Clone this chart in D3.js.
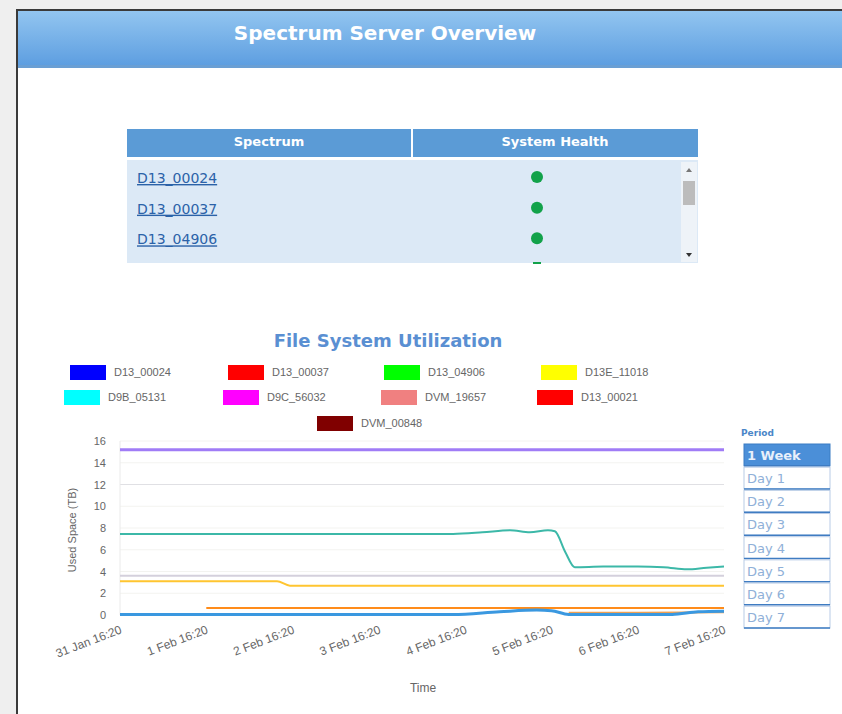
<!DOCTYPE html>
<html><head><meta charset="utf-8">
<script src="https://cdn.jsdelivr.net/npm/d3@7"></script>
<style>
html,body{margin:0;padding:0;background:#efefef;}
svg{display:block;}
</style></head>
<body>
<svg id="c" width="842" height="714"></svg>
<script>
// ---------- data ----------
const pageTitle = "Spectrum Server Overview";
const tableHeaders = ["Spectrum", "System Health"];
const tableRows = ["D13_00024", "D13_00037", "D13_04906"];
const chartTitle = "File System Utilization";
const legendNames = ["D13_00024","D13_00037","D13_04906","D13E_11018","D9B_05131","D9C_56032","DVM_19657","D13_00021","DVM_00848"];
const legendColors = ["#0000ff","#ff0000","#00ff00","#ffff00","#00ffff","#ff00ff","#f08080","#ff0000","#800000"];
const periodOptions = ["1 Week","Day 1","Day 2","Day 3","Day 4","Day 5","Day 6","Day 7"];
const yTicks = [0,2,4,6,8,10,12,14,16];
const xTickDays = [0,1,2,3,4,5,6,7];
const startTime = new Date(2021,0,31,16,20);
// series: day offsets from start and values (TB)
const purpleDays = [0,7];            const purpleVals = [15.2,15.2];
const grayDays = [0,7];              const grayVals = [3.6,3.6];
const tealDays = [0,1,2,3,3.86,4.2,4.52,4.75,4.96,5.04,5.16,5.27,5.6,6.0,6.3,6.57,6.8,7];
const tealVals = [7.45,7.45,7.45,7.45,7.45,7.6,7.8,7.6,7.8,7.7,5.8,4.4,4.45,4.45,4.4,4.2,4.35,4.45];
const yellowDays = [0,1,1.82,1.97,3,4,5,6,7];
const yellowVals = [3.1,3.1,3.1,2.7,2.7,2.7,2.7,2.7,2.7];
const orangeDays = [1.0,2,3,4,5,6,7];
const orangeVals = [0.65,0.65,0.65,0.65,0.65,0.65,0.65];
const orange2Days = [5.2,6,7];
const orange2Vals = [0.2,0.2,0.25];
const blueDays = [0,1,2,3,3.86,4.4,4.83,5.0,5.2,6.0,6.4,6.7,7];
const blueVals = [0.05,0.05,0.05,0.05,0.05,0.3,0.45,0.4,0.05,0.05,0.05,0.3,0.35];
const seriesColors = {purple:"#a07cf6", gray:"#d4d0dc", teal:"#3cb8a8", yellow:"#ffc530", orange:"#ff8c1a", orange2:"#f0a050", blue:"#3a98e0"};

// ---------- drawing ----------
const svg = d3.select("#c");
const defs = svg.append("defs");
const hg = defs.append("linearGradient").attr("id","hg").attr("x1",0).attr("y1",0).attr("x2",0).attr("y2",1);
hg.append("stop").attr("offset","0%").attr("stop-color","#92c5f0");
hg.append("stop").attr("offset","100%").attr("stop-color","#5c9de0");

// panel
svg.append("rect").attr("x",17).attr("y",10).attr("width",840).attr("height",720)
  .attr("fill","#fff").attr("stroke","#3a3a3a").attr("stroke-width",2);
svg.append("rect").attr("x",18).attr("y",11).attr("width",830).attr("height",56).attr("fill","url(#hg)");
svg.append("rect").attr("x",18).attr("y",65).attr("width",830).attr("height",3).attr("fill","#6a9fd4");
svg.append("text").attr("x",385).attr("y",40).attr("text-anchor","middle")
  .attr("font-family","DejaVu Sans, Verdana, sans-serif").attr("font-weight","bold").attr("font-size",20)
  .attr("fill","#fff").text(pageTitle);

// table
svg.append("rect").attr("x",127).attr("y",129).attr("width",571).attr("height",28).attr("fill","#5b9bd6");
svg.append("line").attr("x1",412).attr("x2",412).attr("y1",129).attr("y2",157).attr("stroke","#fff").attr("stroke-width",2);
[269,555].forEach((cx,i)=>svg.append("text").attr("x",cx).attr("y",146).attr("text-anchor","middle")
  .attr("font-family","DejaVu Sans, Verdana, sans-serif").attr("font-weight","bold").attr("font-size",13)
  .attr("fill","#fff").text(tableHeaders[i]));
svg.append("rect").attr("x",127).attr("y",160).attr("width",571).attr("height",103).attr("fill","#dce9f6");
const rowY = d3.scalePoint().domain(d3.range(tableRows.length+1)).range([178,270]);
tableRows.forEach((r,i)=>{
  svg.append("text").attr("x",137).attr("y",rowY(i)+5).attr("font-family","DejaVu Sans, Verdana, sans-serif")
    .attr("font-size",14).attr("fill","#2b62a8").attr("text-decoration","underline").text(r);
  svg.append("circle").attr("cx",537).attr("cy",rowY(i)-1).attr("r",6).attr("fill","#12a24a");
});
svg.append("rect").attr("x",533).attr("y",262).attr("width",8).attr("height",2).attr("fill","#12a24a");
// scrollbar
svg.append("rect").attr("x",681).attr("y",162).attr("width",16).attr("height",100).attr("fill","#eef3f8");
svg.append("rect").attr("x",683).attr("y",181).attr("width",12).attr("height",24).attr("fill","#bcbcbc");
svg.append("path").attr("d","M686,172 L692,172 L689,168 Z").attr("fill","#777");
svg.append("path").attr("d","M686,253 L692,253 L689,257 Z").attr("fill","#333");

// chart title
svg.append("text").attr("x",388).attr("y",347).attr("text-anchor","middle")
  .attr("font-family","DejaVu Sans, Verdana, sans-serif").attr("font-weight","bold").attr("font-size",18)
  .attr("fill","#5a8fd2").text(chartTitle);

// legend
const legendPos = [[70,372],[228,372],[384,372],[541,372],[64,397],[223,397],[381,397],[537,397],[317,423]];
legendNames.forEach((n,i)=>{
  const [lx,ly]=legendPos[i];
  svg.append("rect").attr("x",lx).attr("y",ly-7).attr("width",36).attr("height",15).attr("fill",legendColors[i]);
  svg.append("text").attr("x",lx+44).attr("y",ly+4).attr("font-family","Liberation Sans, Arial, sans-serif")
    .attr("font-size",11).attr("fill","#666").text(n);
});

// scales
const toDate = d=>new Date(startTime.getTime()+d*86400000);
const x = d3.scaleTime().domain([startTime, toDate(7)]).range([120,724]);
const y = d3.scaleLinear().domain([0,16]).range([615,441]);

// grid
svg.append("g").selectAll("line").data(yTicks.slice(1)).join("line")
  .attr("x1",120).attr("x2",724).attr("y1",d=>y(d)).attr("y2",d=>y(d))
  .attr("stroke",d=>d===12?"#e0e0e4":"#f3f3f0").attr("stroke-width",1);
svg.append("line").attr("x1",120).attr("x2",120).attr("y1",441).attr("y2",615).attr("stroke","#eaeaea");

// y axis
const yAxis = d3.axisLeft(y).tickValues(yTicks).tickSize(0).tickPadding(14);
const yg = svg.append("g").attr("transform","translate(120,0)").call(yAxis);
yg.select(".domain").remove();
yg.selectAll("text").attr("font-family","Liberation Sans, Arial, sans-serif").attr("font-size",11).attr("fill","#666");

// x axis
const xAxis = d3.axisBottom(x).tickValues(xTickDays.map(toDate)).tickFormat(d3.timeFormat("%-d %b %H:%M")).tickSize(0);
const xg = svg.append("g").attr("transform","translate(0,618)").call(xAxis);
xg.select(".domain").remove();
xg.selectAll("text").attr("font-family","Liberation Sans, Arial, sans-serif").attr("font-size",12).attr("fill","#666")
  .attr("text-anchor","end").attr("dy","0").attr("transform","translate(1,12) rotate(-21)");

// axis titles
svg.append("text").attr("transform","translate(76,530) rotate(-90)").attr("text-anchor","middle")
  .attr("font-family","Liberation Sans, Arial, sans-serif").attr("font-size",11).attr("fill","#666").text("Used Space (TB)");
svg.append("text").attr("x",423).attr("y",692).attr("text-anchor","middle")
  .attr("font-family","Liberation Sans, Arial, sans-serif").attr("font-size",12).attr("fill","#666").text("Time");

// lines
const line = d3.line().x(d=>x(toDate(d[0]))).y(d=>y(d[1])).curve(d3.curveMonotoneX);
const series = [
  [grayDays,grayVals,seriesColors.gray,2],
  [purpleDays,purpleVals,seriesColors.purple,3],
  [tealDays,tealVals,seriesColors.teal,2],
  [yellowDays,yellowVals,seriesColors.yellow,2],
  [orangeDays,orangeVals,seriesColors.orange,2],
  [orange2Days,orange2Vals,seriesColors.orange2,2],
  [blueDays,blueVals,seriesColors.blue,3]
];
series.forEach(([ds,vs,c,w])=>{
  svg.append("path").datum(ds.map((d,i)=>[d,vs[i]])).attr("d",line)
    .attr("fill","none").attr("stroke",c).attr("stroke-width",w);
});

// period panel
svg.append("text").attr("x",741).attr("y",436).attr("font-family","DejaVu Sans, Verdana, sans-serif")
  .attr("font-weight","bold").attr("font-size",9).attr("fill","#4a86c8").text("Period");
const py = d3.scaleBand().domain(periodOptions).range([444,628]).paddingInner(0.06);
periodOptions.forEach((p,i)=>{
  svg.append("rect").attr("x",744).attr("y",py(p)).attr("width",86).attr("height",py.bandwidth())
    .attr("fill",i===0?"#4b8fd8":"#fff").attr("stroke",i===0?"#3b7cc4":"#b8cbe6").attr("stroke-width",1);
  svg.append("line").attr("x1",744).attr("x2",830).attr("y1",py(p)+py.bandwidth()).attr("y2",py(p)+py.bandwidth())
    .attr("stroke","#3f7cc2").attr("stroke-width",1.5);
  svg.append("text").attr("x",747).attr("y",py(p)+py.bandwidth()/2+5)
    .attr("font-family","DejaVu Sans, Verdana, sans-serif").attr("font-size",13)
    .attr("font-weight",i===0?"bold":"normal")
    .attr("fill",i===0?"#e8f0fb":"#8fb0d8").text(p);
});
</script>
</body></html>
